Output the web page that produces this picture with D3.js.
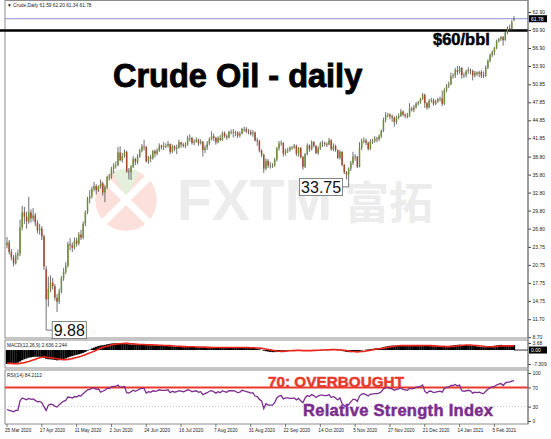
<!DOCTYPE html>
<html>
<head>
<meta charset="utf-8">
<script src="https://cdn.jsdelivr.net/npm/d3@7"></script>
<style>
  body { margin: 0; background: #fff; }
  svg text { font-family: "Liberation Sans", Arial, sans-serif; }
  .tick text { font-size: 5px; fill: #222; }
  .tick line { stroke: #444; }
</style>
</head>
<body>
<svg id="chart" width="551" height="439"></svg>
<script>
// daily bars, 25 Mar 2020 .. 18 Feb 2021
const openP = [24.0,24.5,22.9,22.0,21.0,22.3,22.6,27.0,29.5,28.8,
28.0,29.5,28.5,29.0,27.8,26.5,26.8,25.5,20.0,15.0,
16.8,17.8,17.2,15.3,14.6,16.3,18.5,19.6,20.6,24.2,
24.0,23.6,24.8,24.3,25.8,25.3,27.6,29.5,31.8,32.2,
33.4,33.9,33.2,33.8,34.3,32.8,33.7,35.4,35.4,36.8,
37.3,37.4,39.5,38.2,38.9,39.6,36.3,36.2,37.1,38.4,
37.9,38.8,39.8,40.5,40.4,38.0,38.7,38.5,39.7,39.3,
39.8,40.6,40.4,40.6,40.6,40.9,39.6,40.5,40.1,40.3,
41.2,40.8,40.6,40.8,41.9,41.9,41.1,41.3,41.6,41.0,
41.3,39.9,40.3,41.0,41.7,42.2,41.9,41.2,41.9,41.6,
42.7,42.2,42.0,42.9,42.9,42.9,42.8,42.3,42.6,43.4,
43.4,43.0,42.9,42.6,42.8,41.5,41.4,39.8,39.1,36.8,
38.1,37.3,37.3,37.3,38.3,40.2,41.0,41.1,39.3,39.8,
39.9,40.3,40.3,40.6,39.3,40.2,38.7,37.1,39.2,40.7,
40.0,41.2,40.6,39.4,40.2,41.0,41.0,40.9,40.8,41.5,
40.0,40.6,39.9,38.6,39.6,37.4,36.2,35.8,36.8,37.7,
38.8,38.8,37.1,40.3,41.4,41.5,41.1,40.1,41.3,41.4,
41.8,41.7,42.2,43.1,44.9,45.7,45.8,45.5,45.3,44.6,
45.3,45.6,46.3,45.8,45.6,45.5,46.8,46.6,47.0,47.6,
47.8,48.4,49.1,47.7,47.0,48.1,48.2,47.6,48.0,48.4,
48.5,47.6,49.9,50.6,50.8,52.2,52.3,53.2,52.9,53.6,
52.4,52.4,53.0,53.2,53.1,52.3,52.8,52.6,52.9,52.3,
52.2,53.6,54.8,55.7,56.2,56.9,58.0,58.4,58.7,58.2,
59.5,60.2,60.1,61.59];

const highP = [25.4,24.9,23.4,22.4,22.8,23.3,28.3,30.6,30.4,29.6,
32.1,30.0,30.2,29.4,28.2,27.6,27.2,25.8,20.6,18.8,
19.0,18.6,17.6,15.9,16.8,18.9,20.2,21.2,24.6,25.2,
24.5,25.3,25.3,26.2,26.6,28.0,29.8,32.1,33.2,33.8,
34.6,34.2,34.0,35.0,34.6,34.0,35.6,35.9,37.1,37.7,
38.0,40.4,40.5,39.4,40.0,39.8,36.9,37.4,38.9,38.6,
39.2,40.1,40.9,41.6,40.6,38.9,39.1,39.9,40.0,40.2,
41.0,40.8,41.2,41.0,41.4,41.0,40.8,40.7,40.8,41.6,
41.3,41.1,41.2,42.3,42.5,42.1,41.7,42.0,41.8,41.7,
41.4,40.7,41.4,42.0,43.0,42.6,42.1,42.2,42.4,43.0,
43.0,42.5,43.1,43.3,43.4,43.1,43.0,43.0,43.6,43.8,
43.7,43.4,43.3,43.2,43.0,41.9,41.6,40.0,39.3,38.5,
38.4,37.9,37.7,38.6,40.4,41.4,41.5,41.2,40.1,40.3,
40.5,40.6,40.9,40.8,40.4,40.4,38.9,39.4,41.0,40.8,
41.5,41.4,40.7,40.5,41.3,41.5,41.3,41.2,41.9,41.7,
41.0,40.8,40.0,39.9,39.7,37.6,36.4,37.0,38.1,39.6,
39.2,38.9,41.2,41.8,42.0,41.8,41.3,41.7,41.8,42.2,
42.1,42.5,43.3,45.3,46.2,46.1,46.0,45.8,45.5,45.6,
46.0,46.7,46.5,46.0,46.1,47.7,47.1,47.4,47.9,48.1,
48.6,49.4,49.3,47.9,48.4,48.6,48.5,48.3,48.6,48.8,
49.8,50.2,50.9,51.3,52.8,52.7,53.6,53.9,53.9,53.7,
52.8,53.3,53.7,53.5,53.3,53.1,53.0,53.1,53.2,53.0,
54.0,55.0,56.0,56.5,57.1,58.3,58.6,58.9,58.9,59.8,
60.5,60.8,61.6,62.20];

const lowP = [23.5,22.5,21.5,20.5,20.8,21.6,22.2,26.5,27.6,26.8,
27.6,27.8,28.0,27.2,26.0,25.8,24.9,19.9,12.1,13.8,
16.2,16.6,14.8,12.9,14.2,16.0,18.1,19.2,20.3,23.2,
22.9,23.3,23.8,24.0,24.9,25.0,27.2,29.2,31.0,31.8,
33.0,32.5,32.9,33.5,32.3,31.2,33.4,34.8,35.1,36.0,
36.8,37.2,38.0,37.8,38.6,36.1,35.0,34.9,36.9,37.4,
37.5,38.6,39.5,39.8,37.8,37.6,37.9,38.3,38.7,39.0,
39.6,40.0,39.9,40.2,40.3,39.2,39.4,39.7,39.2,40.1,
40.3,40.3,40.2,40.6,41.3,40.8,40.7,41.1,40.6,40.8,
38.8,39.4,39.9,40.7,41.5,41.4,40.8,41.0,41.4,41.4,
41.9,41.6,41.8,42.5,42.0,42.2,41.9,42.0,42.5,42.9,
42.7,42.5,42.3,42.1,41.3,40.6,39.5,38.7,36.1,36.5,
36.9,36.8,36.9,37.1,38.0,39.8,40.6,38.8,39.0,39.4,
39.6,39.9,40.1,38.9,38.8,38.5,36.6,36.9,39.0,39.6,
39.8,40.3,39.2,39.1,39.9,40.4,40.5,40.4,40.7,39.8,
39.7,39.6,38.4,38.3,37.2,35.9,35.0,34.9,36.4,37.4,
38.1,36.9,37.0,39.9,41.0,40.7,39.8,39.9,40.9,41.1,
41.2,41.4,41.9,42.9,44.5,45.3,45.0,44.6,43.8,44.2,
45.0,45.4,45.5,45.2,45.2,45.4,46.3,46.2,46.8,47.3,
47.6,48.2,46.9,46.6,46.8,47.8,47.3,47.4,47.7,48.0,
47.2,47.4,49.5,50.2,50.7,51.8,51.9,52.4,52.6,51.8,
51.9,52.0,52.6,52.5,51.5,52.0,52.2,52.0,51.9,51.9,
52.1,53.4,54.5,55.4,55.7,56.7,57.8,58.1,57.3,58.1,
59.2,59.6,59.8,61.34];

const closeP = [24.5,22.9,22.0,21.0,22.3,22.6,27.0,29.5,28.8,28.0,
29.5,28.5,29.0,27.8,26.5,26.8,25.5,20.5,15.0,16.8,
17.8,17.2,15.3,14.6,16.3,18.5,19.6,20.6,24.2,24.0,
23.6,24.8,24.3,25.8,25.3,27.6,29.5,31.8,32.2,33.4,
33.9,33.2,33.8,34.3,32.8,33.7,35.4,35.4,36.8,37.3,
37.4,39.5,38.2,38.9,39.6,36.3,36.2,37.1,38.4,37.9,
38.8,39.8,40.5,40.4,38.0,38.7,38.5,39.7,39.3,39.8,
40.6,40.4,40.6,40.6,40.9,39.6,40.5,40.1,40.3,41.2,
40.8,40.6,40.8,41.9,41.9,41.1,41.3,41.6,41.0,41.3,
39.9,40.3,41.0,41.7,42.2,41.9,41.2,41.9,41.6,42.7,
42.2,42.0,42.9,42.9,42.9,42.8,42.3,42.6,43.4,43.4,
43.0,42.9,42.6,42.8,41.5,41.4,39.8,39.1,36.8,38.1,
37.3,37.3,37.3,38.3,40.2,41.0,41.1,39.3,39.8,39.9,
40.3,40.3,40.6,39.3,40.2,38.7,37.1,39.2,40.7,40.0,
41.2,40.6,39.4,40.2,41.0,41.0,40.9,40.8,41.5,40.0,
40.6,39.9,38.6,39.6,37.4,36.2,35.8,36.8,37.7,38.8,
38.8,37.1,40.3,41.4,41.5,41.1,40.1,41.3,41.4,41.8,
41.7,42.2,43.1,44.9,45.7,45.8,45.5,45.3,44.6,45.3,
45.6,46.3,45.8,45.6,45.5,46.8,46.6,47.0,47.6,47.8,
48.4,49.1,47.7,47.0,48.1,48.2,47.6,48.0,48.4,48.5,
47.6,49.9,50.6,50.8,52.2,52.3,53.2,52.9,53.6,52.4,
52.4,53.0,53.2,53.1,52.3,52.8,52.6,52.9,52.3,52.2,
53.6,54.8,55.7,56.2,56.9,58.0,58.4,58.7,58.2,59.5,
60.2,60.1,61.2,61.78];

// MACD(12,26,9): main (histogram) and signal
const macdMain = [-7.3,-7.2,-7.1,-7.0,-6.8,-6.6,
-6.0,-5.3,-4.8,-4.4,-4.0,
-3.8,-3.6,-3.5,-3.5,-3.5,-3.6,-3.9,
-4.6,-4.8,-4.9,-5.0,-5.2,-5.4,-5.3,
-5.0,-4.7,-4.4,-3.9,-3.5,-3.2,-2.8,
-2.5,-2.2,-1.9,-1.5,-1.0,-0.4,0.2,
0.8,1.3,1.7,2.1,2.4,2.5,2.7,
3.0,3.2,3.4,3.5,3.6,3.68,3.65,
3.6,3.6,3.3,3.0,2.9,2.9,2.8,
2.8,2.8,2.9,2.9,2.7,2.6,2.5,
2.5,2.4,2.4,2.4,2.3,2.3,2.2,
2.2,2.0,1.9,1.8,1.8,1.8,1.7,
1.6,1.6,1.7,1.7,1.6,1.6,1.6,
1.5,1.5,1.3,1.2,1.2,1.2,1.3,
1.3,1.2,1.2,1.2,1.3,1.3,1.3,
1.3,1.3,1.3,1.3,1.2,1.2,1.3,
1.3,1.3,1.2,1.1,1.1,0.9,0.7,
0.4,0.1,-0.4,-0.6,-0.8,-1.0,-1.1,
-1.1,-0.9,-0.6,-0.4,-0.4,-0.4,-0.3,
-0.2,-0.2,-0.1,-0.2,-0.2,-0.3,-0.5,
-0.5,-0.3,-0.2,0.0,0.0,-0.1,0.0,
0.1,0.2,0.2,0.2,0.3,0.2,0.2,
0.1,-0.1,-0.1,-0.4,-0.7,-1.0,-1.1,
-1.1,-1.0,-0.9,-0.9,-0.6,-0.3,0.0,
0.2,0.3,0.5,0.6,0.8,0.9,1.0,
1.2,1.5,1.8,2.0,2.2,2.3,2.3,
2.3,2.3,2.4,2.4,2.3,2.2,2.3,
2.3,2.3,2.3,2.3,2.4,2.5,2.4,
2.2,2.2,2.1,2.0,1.9,1.9,1.8,
1.6,1.7,1.8,1.9,2.2,2.4,2.6,
2.7,2.8,2.7,2.6,2.6,2.5,2.4,
2.2,2.1,1.9,1.8,1.6,1.5,1.5,
1.6,1.8,2.0,2.2,2.4,2.6,2.7,
2.6,2.6,2.6,2.6,2.6,2.636];

const macdSignal = [-6.9,-7.0,-7.0,-7.1,-7.1,-7.1,
-7.0,-6.8,-6.6,-6.3,-6.0,
-5.6,-5.2,-4.8,-4.4,-4.0,-3.8,-3.7,
-3.8,-3.9,-4.0,-4.2,-4.4,-4.6,-4.8,
-4.9,-5.0,-5.0,-4.9,-4.7,-4.5,-4.2,
-3.9,-3.6,-3.3,-2.9,-2.5,-2.0,-1.6,
-1.1,-0.6,-0.1,0.4,0.9,1.3,1.7,
2.0,2.3,2.6,2.9,3.1,3.2,3.3,
3.4,3.5,3.5,3.4,3.3,3.2,3.1,
3.0,2.9,2.9,2.9,2.8,2.8,2.7,
2.7,2.6,2.6,2.5,2.5,2.4,2.4,
2.3,2.3,2.2,2.1,2.0,2.0,1.9,
1.8,1.8,1.7,1.7,1.7,1.7,1.6,
1.6,1.6,1.5,1.5,1.4,1.4,1.3,
1.3,1.3,1.3,1.3,1.3,1.3,1.3,
1.3,1.3,1.3,1.3,1.3,1.3,1.3,
1.3,1.3,1.3,1.2,1.2,1.2,1.1,
1.0,0.9,0.7,0.5,0.3,0.1,-0.1,
-0.3,-0.5,-0.6,-0.7,-0.7,-0.6,-0.5,
-0.4,-0.3,-0.3,-0.2,-0.2,-0.2,-0.3,
-0.3,-0.3,-0.3,-0.3,-0.2,-0.2,-0.1,
-0.1,0.0,0.0,0.1,0.1,0.2,0.2,
0.2,0.1,0.1,0.0,-0.1,-0.3,-0.5,
-0.7,-0.8,-0.9,-1.0,-0.9,-0.8,-0.7,
-0.5,-0.3,-0.1,0.1,0.3,0.5,0.7,
0.8,1.0,1.2,1.4,1.6,1.8,2.0,
2.1,2.2,2.3,2.3,2.3,2.3,2.3,
2.3,2.3,2.3,2.3,2.3,2.3,2.4,
2.4,2.3,2.3,2.2,2.2,2.1,2.0,
1.9,1.9,1.8,1.8,1.9,1.9,2.0,
2.2,2.3,2.4,2.5,2.6,2.6,2.6,
2.5,2.4,2.3,2.2,2.1,2.0,1.8,
1.7,1.7,1.7,1.8,1.9,2.0,2.1,
2.2,2.2,2.2,2.2,2.2,2.244];

// RSI(14)
const rsi = [24,22,21,19,22,22,
42,48,46,44,47,
45,46,43,40,41,38,30,
22,33,35,34,31,29,34,
38,41,43,50,49,48,51,
50,53,52,57,61,65,66,
68,69,66,67,60,62,64,
68,68,71,72,72,75,70,
71,72,59,58,61,64,62,
64,67,68,68,58,61,60,
63,62,63,65,64,64,64,
65,59,62,60,61,63,62,
61,62,65,64,61,62,63,
60,61,55,57,59,62,63,
61,58,61,59,63,61,60,
63,63,63,62,59,60,64,
63,61,60,58,59,52,51,
45,42,26,36,33,33,33,
38,48,52,53,46,48,48,
47,47,48,44,47,42,38,
48,53,51,55,53,49,52,
54,54,53,53,55,49,51,
48,44,48,36,32,30,34,
40,45,45,41,52,56,57,
55,52,56,56,57,57,58,
61,67,69,70,68,67,64,
66,67,69,66,65,64,68,
67,68,70,71,72,75,62,
58,62,62,59,60,61,62,
60,68,70,71,74,74,76,
73,75,63,62,63,64,63,
58,60,59,60,58,57,62,
66,69,71,72,75,77,78,
74,79,81,81,83,84.2112];

const dateBars = [0,16,32,48,64,80,96,112,128,144,160,176,192,208,224];
const dateLabels = ["25 Mar 2020","17 Apr 2020","11 May 2020","2 Jun 2020","24 Jun 2020",
  "16 Jul 2020","7 Aug 2020","31 Aug 2020","22 Sep 2020","14 Oct 2020","5 Nov 2020",
  "27 Nov 2020","21 Dec 2020","14 Jan 2021","5 Feb 2021"];

const priceTicks = [62.90,59.90,56.90,53.90,50.85,47.85,44.85,41.85,38.80,35.80,32.80,29.80,26.80,23.75,20.75,17.75,14.75,11.70,8.70];
const macdTicks = [3.68,-7.309];
const macdTickLabels = ["3.68","-7.309"];
const rsiTicks = [100,70,30,0];

const lastQuote = ["61.59","62.20","61.34","61.78"];
const lastPrice = 61.78;
const levelPrice = 60;
const rsiOverbought = 70;
const rsiOversold = 30;
const noteBars = [18, 157];
const noteValues = [9.88, 33.75];

// ---- layout
const svg = d3.select("#chart");
const paneL = 5, paneR = 528;
const mainTop = 0.5, mainBot = 338;
const macdTop = 340, macdBot = 368;
const rsiTop = 370, rsiBot = 424;

const x = d3.scaleLinear().domain([0, closeP.length - 1]).range([7, 514]);
const y = d3.scaleLinear().domain([8.70, 62.90]).range([337.2, 12]);
const yM = d3.scaleLinear().domain([-7.309, 3.68]).range([364, 343]);
const yR = d3.scaleLinear().domain([0, 100]).range([421, 373]);

svg.append("rect").attr("width", 551).attr("height", 439).attr("fill", "#fff");

// watermark
const wm = svg.append("g");
wm.append("clipPath").attr("id", "logoClip")
  .append("circle").attr("cx", 126).attr("cy", 200).attr("r", 31);
const logo = wm.append("g").attr("clip-path", "url(#logoClip)");
logo.append("circle").attr("cx", 126).attr("cy", 200).attr("r", 31).attr("fill", "#fbe0dc");
logo.append("path").attr("d", "M126,198 L110,166 L142,166 Z").attr("fill", "#e4f0db");
logo.append("path").attr("d", "M100,174 L152,226 M152,174 L100,226")
  .attr("stroke", "#fff").attr("stroke-width", 7);
wm.append("text").attr("x", 177).attr("y", 220).text("FXTM")
  .attr("font-size", 57).attr("font-weight", "bold").attr("fill", "#ececec");
wm.append("text").attr("x", 345).attr("y", 219).text("富拓")
  .style("font-family", "'Noto Sans CJK SC', sans-serif")
  .attr("font-size", 44).attr("font-weight", "bold").attr("fill", "#ececec");

// pane frames
[[mainTop, mainBot], [macdTop, macdBot], [rsiTop, rsiBot]].forEach(p => {
  svg.append("rect").attr("x", paneL).attr("y", p[0])
    .attr("width", paneR - paneL).attr("height", p[1] - p[0])
    .attr("fill", "none").attr("stroke", "#8c8c8c").attr("stroke-width", 1);
});

// level lines
svg.append("line").attr("x1", paneL).attr("x2", paneR)
  .attr("y1", y(lastPrice)).attr("y2", y(lastPrice))
  .attr("stroke", "#8f8fd6").attr("stroke-width", 1);
svg.append("line").attr("x1", 0).attr("x2", paneR)
  .attr("y1", y(levelPrice) + 1).attr("y2", y(levelPrice) + 1)
  .attr("stroke", "#000").attr("stroke-width", 2.5);

// candles
const bars = d3.range(closeP.length);
const cg = svg.append("g");
cg.selectAll("line").data(bars).enter().append("line")
  .attr("x1", i => x(i)).attr("x2", i => x(i))
  .attr("y1", i => y(highP[i])).attr("y2", i => y(lowP[i]))
  .attr("stroke", "#4a4a4a").attr("stroke-width", 0.8);
cg.selectAll("rect").data(bars).enter().append("rect")
  .attr("x", i => x(i) - 0.75).attr("width", 1.5)
  .attr("y", i => y(Math.max(openP[i], closeP[i])))
  .attr("height", i => Math.max(0.7, Math.abs(y(openP[i]) - y(closeP[i]))))
  .attr("fill", i => closeP[i] >= openP[i] ? "#6f8f34" : "#a5492e");

// annotations
noteBars.forEach((b, k) => {
  const v = noteValues[k];
  const txt = String(v);
  const bx = x(b), by = y(v), ly = y(lowP[b]);
  const g = svg.append("g");
  const t = g.append("text").text(txt).attr("font-size", 16).attr("fill", "#111")
    .attr("dominant-baseline", "central");
  const w = t.node().getComputedTextLength() + 3;
  const boxX = k === 0 ? bx + 6 : bx - 6 - w;
  t.attr("x", boxX + 1.5).attr("y", by + 0.5);
  g.insert("rect", "text").attr("x", boxX).attr("y", by - 8.5).attr("width", w).attr("height", 17)
    .attr("fill", "#fff").attr("stroke", "#666").attr("stroke-width", 0.8);
  const lx = k === 0 ? boxX : boxX + w;
  g.append("path").attr("d", `M${bx},${ly} L${bx},${by} L${lx},${by}`)
    .attr("fill", "none").attr("stroke", "#555").attr("stroke-width", 0.8);
});

// MACD
const mg = svg.append("g");
mg.selectAll("rect").data(bars).enter().append("rect")
  .attr("x", i => x(i) - 1.15).attr("width", 2.3)
  .attr("y", i => Math.min(yM(0), yM(macdMain[i])))
  .attr("height", i => Math.abs(yM(macdMain[i]) - yM(0)))
  .attr("fill", "#000");
mg.append("line").attr("x1", x(bars.length - 1)).attr("x2", paneR)
  .attr("y1", yM(0)).attr("y2", yM(0)).attr("stroke", "#000").attr("stroke-width", 0.8);
mg.append("path").datum(bars)
  .attr("d", d3.line().x(i => x(i)).y(i => yM(macdSignal[i])))
  .attr("fill", "none").attr("stroke", "#e8261c").attr("stroke-width", 1.6);

// RSI
svg.append("line").attr("x1", paneL).attr("x2", paneR)
  .attr("y1", yR(rsiOversold)).attr("y2", yR(rsiOversold))
  .attr("stroke", "#aaa").attr("stroke-width", 0.7).attr("stroke-dasharray", "1,2");
svg.append("line").attr("x1", paneL).attr("x2", paneR)
  .attr("y1", yR(rsiOverbought)).attr("y2", yR(rsiOverbought))
  .attr("stroke", "#e8392a").attr("stroke-width", 2);
svg.append("path").datum(bars)
  .attr("d", d3.line().x(i => x(i)).y(i => yR(rsi[i])))
  .attr("fill", "none").attr("stroke", "#7b2d8e").attr("stroke-width", 1.3);

// right axes
function rightAxis(scale, ticks, fmt) {
  const g = svg.append("g").attr("transform", `translate(${paneR},0)`)
    .call(d3.axisRight(scale).tickValues(ticks).tickSize(3).tickPadding(1.5).tickFormat(fmt));
  g.select(".domain").remove();
  return g;
}
rightAxis(y, priceTicks, d3.format(".2f"));
rightAxis(yM, macdTicks, (d, i) => macdTickLabels[i]);
rightAxis(yR, rsiTicks, d3.format("d"));
svg.append("line").attr("x1", paneR).attr("x2", paneR).attr("y1", 0).attr("y2", rsiBot)
  .attr("stroke", "#777").attr("stroke-width", 1);

// value boxes on the axis
function valueBox(yy, label) {
  svg.append("rect").attr("x", paneR + 1).attr("y", yy - 3.5).attr("width", 18).attr("height", 7)
    .attr("fill", "#000");
  svg.append("text").attr("x", paneR + 3).attr("y", yy + 1.8).text(label)
    .attr("font-size", 5).attr("fill", "#fff");
}
valueBox(y(lastPrice), lastQuote[3]);
valueBox(yM(0), "0.00");

// x axis
const xg = svg.append("g");
dateBars.forEach((b, k) => {
  xg.append("line").attr("x1", x(b)).attr("x2", x(b)).attr("y1", rsiBot).attr("y2", rsiBot + 3)
    .attr("stroke", "#444").attr("stroke-width", 0.7);
  xg.append("text").attr("x", x(b) - 2).attr("y", rsiBot + 7.5).text(dateLabels[k])
    .attr("font-size", 4.7).attr("fill", "#222");
});

// pane captions
svg.append("text").attr("x", 7).attr("y", 7)
  .text("\u25BC Crude,Daily  " + lastQuote.join(" "))
  .attr("font-size", 4.8).attr("fill", "#222");
svg.append("text").attr("x", 7).attr("y", macdTop + 6.5)
  .text("MACD(12,26,9) " + macdMain[macdMain.length - 1] + " " + macdSignal[macdSignal.length - 1])
  .attr("font-size", 4.8).attr("fill", "#222");
svg.append("text").attr("x", 7).attr("y", rsiTop + 6.5)
  .text("RSI(14) " + rsi[rsi.length - 1])
  .attr("font-size", 4.8).attr("fill", "#222");

// headline annotations
svg.append("text").attr("x", 113).attr("y", 87).text("Crude Oil - daily")
  .attr("font-size", 32.5).attr("font-weight", "bold").attr("fill", "#000")
  .attr("stroke", "#000").attr("stroke-width", 0.9);
svg.append("text").attr("x", 433).attr("y", 45).text("$60/bbl")
  .attr("font-size", 16.5).attr("font-weight", "bold").attr("fill", "#000")
  .attr("stroke", "#000").attr("stroke-width", 0.5);
svg.append("text").attr("x", 268).attr("y", 387).text("70: OVERBOUGHT")
  .attr("font-size", 15.3).attr("font-weight", "bold").attr("fill", "#e8392a")
  .attr("stroke", "#e8392a").attr("stroke-width", 0.5);
svg.append("text").attr("x", 303).attr("y", 416).text("Relative Strength Index")
  .attr("font-size", 16.5).attr("font-weight", "bold").attr("fill", "#7b2d8e")
  .attr("stroke", "#7b2d8e").attr("stroke-width", 0.5).attr("letter-spacing", 0.3);
</script>
</body>
</html>
